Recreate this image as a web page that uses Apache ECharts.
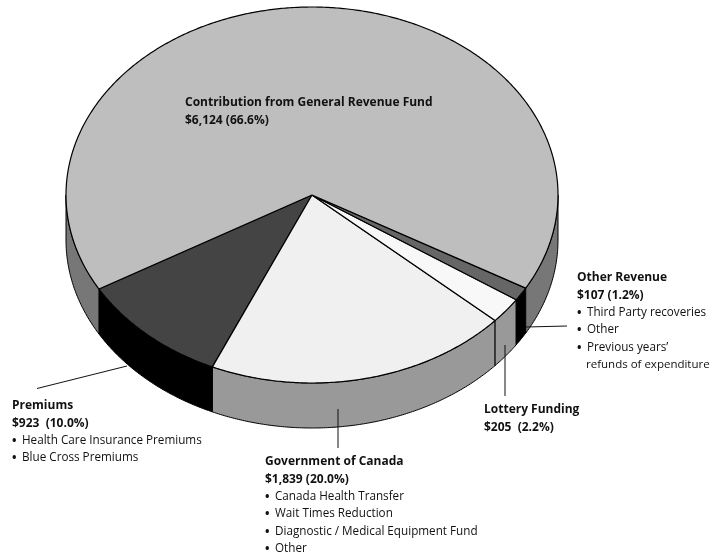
<!DOCTYPE html>
<html>
<head>
<meta charset="utf-8">
<style>html,body{margin:0;padding:0;background:#fff}#chart{width:725px;height:557px}</style>
<script src="https://cdn.jsdelivr.net/npm/echarts@6/dist/echarts.min.js"></script>
</head>
<body>
<div id="chart"></div>
<script>
// Revenue sources in millions of dollars, listed anticlockwise from the Premiums slice
const sources = ['Premiums', 'Government of Canada', 'Lottery Funding', 'Other Revenue', 'Contribution from General Revenue Fund'];
const amounts = [923, 1839, 205, 107, 6124];
const topColors = ['#444444', '#f0f0f0', '#f8f8f8', '#666666', '#bebebe'];
const sideColors = ['#000000', '#999999', '#999999', '#000000', '#777777'];

const captionGeneral = ['Contribution from General Revenue Fund', '$6,124 (66.6%)'];
const captionPremiums = ['Premiums', '$923  (10.0%)', '• Health Care Insurance Premiums', '• Blue Cross Premiums'];
const captionCanada = ['Government of Canada', '$1,839 (20.0%)', '• Canada Health Transfer', '• Wait Times Reduction', '• Diagnostic / Medical Equipment Fund', '• Other'];
const captionLottery = ['Lottery Funding', '$205  (2.2%)'];
const captionOther = ['Other Revenue', '$107 (1.2%)', '• Third Party recoveries', '• Other', '• Previous years’', '  refunds of expenditure'];

// Tilted disc geometry
const disc = { cx: 312, cy: 195, rx: 246, ry: 188, depth: 45, startDeg: 150 };
const total = amounts.reduce((a, b) => a + b, 0);
const LINE = 17.35;
const FAMILY = '"Open Sans", sans-serif';

function rimPoint(deg, drop) {
  const t = deg * Math.PI / 180;
  return [disc.cx + disc.rx * Math.cos(t), disc.cy + disc.ry * Math.sin(t) + drop];
}

function arcPoints(from, to, drop) {
  const pts = [];
  const n = Math.max(2, Math.ceil(Math.abs(to - from) / 0.5));
  for (let i = 0; i <= n; i++) pts.push(rimPoint(from + (to - from) * i / n, drop));
  return pts;
}

// Wall below the rim, only where it faces the viewer (0..180 degrees)
function wall(from, to, fill) {
  const a = Math.max(from, 0), b = Math.min(to, 180);
  if (b <= a) return null;
  const pts = arcPoints(a, b, 0).concat(arcPoints(b, a, disc.depth));
  return { type: 'polygon', shape: { points: pts }, style: { fill, stroke: '#000', lineWidth: 1 } };
}

function renderSlice(params, api) {
  const i = params.dataIndex;
  const before = amounts.slice(0, i).reduce((a, b) => a + b, 0);
  const sweep = api.value(0) / total * 360;
  // Angles run anticlockwise on screen, so they decrease from the start angle
  const hi = disc.startDeg - before / total * 360;
  const lo = hi - sweep;
  const children = [];
  [[lo, hi], [lo + 360, hi + 360]].forEach(([a, b]) => {
    const w = wall(a, b, sideColors[i]);
    if (w) children.push(w);
  });
  children.push({
    type: 'polygon',
    z2: 5,
    shape: { points: [[disc.cx, disc.cy]].concat(arcPoints(lo, hi, 0)) },
    style: { fill: topColors[i], stroke: '#000', lineWidth: 1.2, lineJoin: 'round' }
  });
  return { type: 'group', children };
}

function textEl(text, x, y, font) {
  return { type: 'text', z: 100, x, y, style: { text, fill: '#111', font, verticalAlign: 'middle' } };
}

// First two lines are the bold heading; bullets are set apart from their item text
function caption(lines, x, y) {
  const out = [];
  lines.forEach((line, k) => {
    const ly = y + k * LINE;
    if (k < 2) {
      out.push(textEl(line, x, ly, 'bold 12px ' + FAMILY));
    } else if (line.startsWith('• ')) {
      out.push(textEl('•', x, ly + 1, 'bold 12px ' + FAMILY));
      out.push(textEl(line.slice(2), x + 10, ly, '11.7px ' + FAMILY));
    } else {
      out.push(textEl(line.trim(), x + 9, ly, '11.5px ' + FAMILY));
    }
  });
  return out;
}

function leader(x1, y1, x2, y2) {
  return { type: 'line', z: 100, shape: { x1, y1, x2, y2 }, style: { stroke: '#111', lineWidth: 1 } };
}

const chart = echarts.init(document.getElementById('chart'), null, { renderer: 'canvas' });
chart.setOption({
  animation: false,
  backgroundColor: '#fff',
  series: [{
    type: 'custom',
    coordinateSystem: 'none',
    renderItem: renderSlice,
    data: amounts.map((v, i) => ({ name: sources[i], value: [v] })),
    silent: true
  }],
  graphic: [
    leader(37, 388.5, 127, 366),
    leader(338, 409, 338, 448),
    leader(505, 345, 505, 396),
    leader(526, 327, 567, 326)
  ].concat(
    caption(captionGeneral, 185, 103),
    caption(captionPremiums, 12, 406),
    caption(captionCanada, 265, 462),
    caption(captionLottery, 484, 410),
    caption(captionOther, 577, 278)
  )
});
</script>
</body>
</html>
